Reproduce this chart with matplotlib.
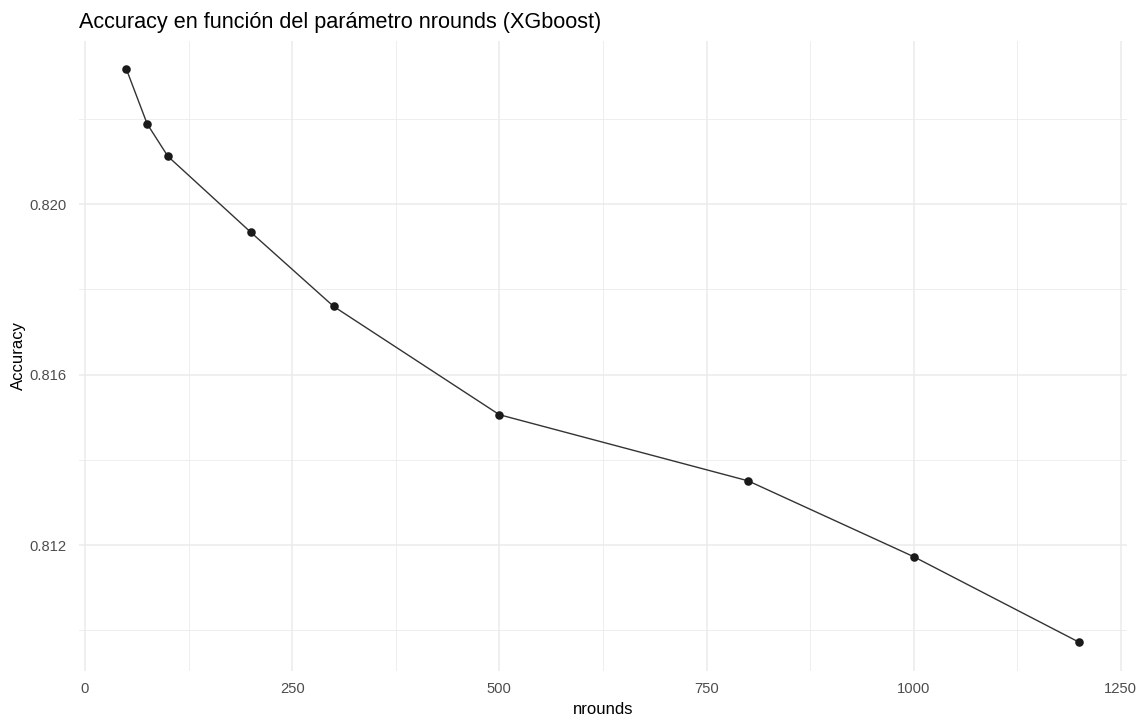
import matplotlib
matplotlib.use("Agg")
import matplotlib.pyplot as plt
from matplotlib.ticker import FixedLocator

plt.rcParams['font.family'] = ['Liberation Sans', 'DejaVu Sans']

nrounds = [50, 75, 100, 200, 300, 500, 800, 1000, 1200]
accuracy = [0.82316, 0.82188, 0.82112, 0.81934, 0.81760, 0.81506, 0.81351, 0.81173, 0.80972]

x_ticks = [0, 250, 500, 750, 1000, 1250]
x_minor = [125, 375, 625, 875, 1125]
y_ticks = [0.812, 0.816, 0.820]
y_tick_labels = ["0.812", "0.816", "0.820"]
y_minor = [0.810, 0.814, 0.818, 0.822]

fig = plt.figure(figsize=(11.44, 7.22), dpi=100)
ax = fig.add_axes([0.0689, 0.0706, 0.9163, 0.873])

ax.plot(nrounds, accuracy, color="#333333", lw=1.0, zorder=3)
ax.scatter(nrounds, accuracy, s=38, color="#1a1a1a", zorder=4, linewidths=0)

# 5% expansion on both axes
xr = max(nrounds) - min(nrounds)
yr = max(accuracy) - min(accuracy)
ax.set_xlim(min(nrounds) - 0.05 * xr, max(nrounds) + 0.05 * xr)
ax.set_ylim(min(accuracy) - 0.05 * yr, max(accuracy) + 0.05 * yr)

ax.xaxis.set_major_locator(FixedLocator(x_ticks))
ax.xaxis.set_minor_locator(FixedLocator(x_minor))
ax.yaxis.set_major_locator(FixedLocator(y_ticks))
ax.yaxis.set_minor_locator(FixedLocator(y_minor))
ax.set_yticklabels(y_tick_labels)

ax.grid(which="major", color="#EBEBEB", lw=1.1)
ax.grid(which="minor", color="#EBEBEB", lw=0.6)
ax.set_axisbelow(True)
for s in ax.spines.values():
    s.set_visible(False)
ax.tick_params(which="both", length=0)
ax.tick_params(axis="y", labelsize=10.6, labelcolor="#4D4D4D", pad=9)
ax.tick_params(axis="x", labelsize=10.6, labelcolor="#4D4D4D", pad=8)

ax.set_xlabel("nrounds", fontsize=12, color="black", labelpad=4)
ax.set_ylabel("Accuracy", fontsize=12, color="black", labelpad=2)
ax.set_title("Accuracy en función del parámetro nrounds (XGboost)",
             fontsize=15.6, loc="left", pad=9, color="black")

fig.savefig("out.png", dpi=100)
